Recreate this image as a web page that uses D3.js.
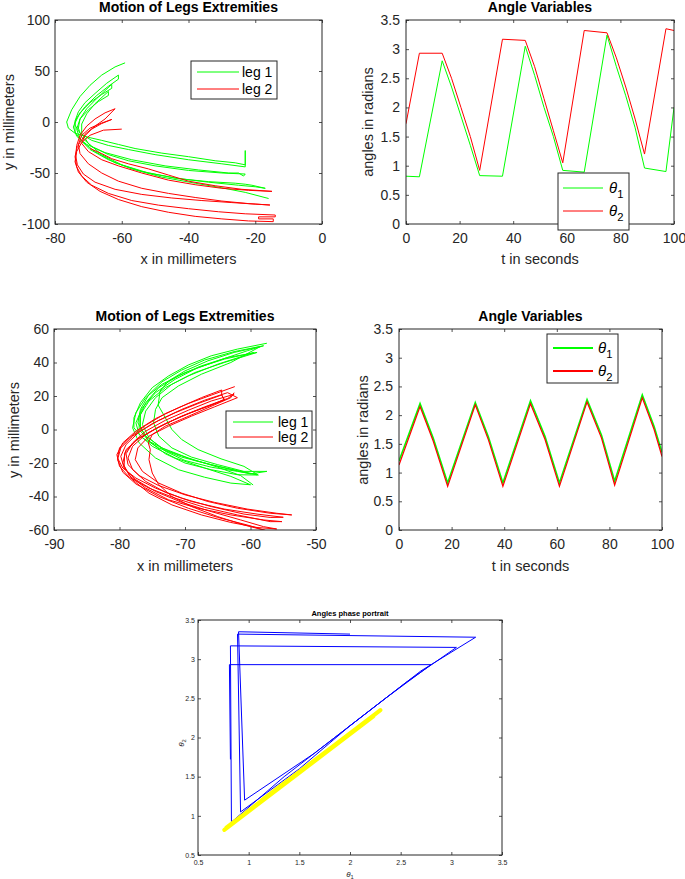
<!DOCTYPE html>
<html>
<head>
<meta charset="utf-8">
<script src="https://cdn.jsdelivr.net/npm/d3@7"></script>
<style>
  body { margin: 0; background: #fff; }
  svg { display: block; }
</style>
</head>
<body>
<svg width="685" height="879"></svg>
<script>
// ---- data: first run (top row) ----
// foot tracks, [x, y] in millimeters, one continuous trace per leg
const topLeg1 = [
  [-59,58],[-62,54],[-66,46],[-69.5,36],[-72.5,25],[-75,12],[-76.5,0],[-76,-6],[-74,-11],[-70,-15],[-66,-18],[-61,-22],[-56,-26],[-48,-30.5],[-40,-34],[-32,-38],[-26,-40],[-23,-42],[-23,-28],[-23,-44],
  [-30,-41],[-40,-37],[-50,-32],[-58,-27],[-64,-23],[-69,-18],[-72.5,-11],[-74,-3],[-74,1],[-73,10],[-71,19],[-68,28],[-64.5,38],[-61,46],[-61,42],
  [-64,35],[-67.5,26],[-71,15],[-73.5,4],[-74.5,-5],[-73.5,-14],[-70.5,-22],[-65,-30],[-57,-37],[-47,-43],[-37,-47],[-28,-50],[-25,-50],[-23.5,-53],
  [-23,-51],[-30,-50],[-40,-47.5],[-50,-43],[-58,-38],[-64,-32],[-69,-24],[-72,-15],[-73,-6],[-72.5,3],[-70.5,13],[-67.5,23],[-63,37],[-63,33],
  [-66,27],[-69.5,19],[-72.5,9],[-74,-1],[-74,-10],[-72,-19],[-68,-29],[-62,-40],[-54,-48.5],[-44,-55],[-34,-59],[-25,-62],[-20,-63.5],[-17,-65],
  [-21,-62],[-23,-61],[-26,-60],[-34,-58.5],[-43,-55.5],[-52,-50],[-60,-42],[-66,-32],[-70,-21],[-72,-11],[-72,-2],[-70.5,8],[-68,18],[-64,30],[-64,26],
  [-67,20],[-70,12],[-72.5,3],[-73.5,-7],[-72.5,-17],[-69.5,-27],[-64,-37],[-57,-46],[-48,-54],[-38,-60],[-30,-64.5],[-23,-69],[-16,-75]
];
const topLeg2 = [
  [-69.5,-26],[-66,-31],[-63,-36],[-58,-41],[-52,-46],[-46,-52],[-40,-58],[-32,-62.5],[-24,-66],[-15,-68],
  [-22,-67],[-30,-65],[-38,-61.5],[-46,-57],[-54,-50],[-61,-43],[-66,-37],[-70,-29],[-72,-21],[-71,-12],[-68,-4],[-65,3],[-62,13],
  [-65,9],[-68,3],[-70.5,-4],[-72.5,-13],[-73.5,-23],[-73.8,-33],[-73.3,-42],[-71.5,-51],[-68,-59],[-62,-66],[-54,-71],[-45,-74.5],[-36,-77],[-27,-79],[-20,-80.5],[-15.6,-81.4],
  [-22,-80],[-30,-77.5],[-38,-74],[-46,-70],[-54,-65],[-61,-58],[-66,-50],[-70,-41],[-72.5,-31],[-73,-22],[-72,-13],[-69.5,-6],[-66,-1],[-63,2.5],
  [-66,-1.5],[-69,-7],[-71.5,-15],[-73.3,-24],[-74,-34],[-73.5,-44],[-72,-53],[-69,-62],[-64,-70],[-57,-77],[-49,-81.5],[-40,-85],[-31,-88],[-23,-90],[-14,-91.2],
  [-14,-93],[-19,-93],[-19,-95],[-14.6,-95],[-14.6,-97.7],[-22,-97],[-30,-95],[-38,-92.5],[-46,-88.5],[-54,-83],[-61,-76],[-66.5,-68],[-70.5,-59],[-73,-49],[-74,-39],[-73.5,-29],[-72,-20],[-69.5,-13],[-65.5,-8],[-60,-7]
];
// angles vs time
const timeA = [0, 5, 13.5, 17, 20.5, 24, 27.5, 36, 44.5, 48, 51.5, 55, 58.5, 66.5, 75, 78.5, 82, 85.5, 89, 97, 100];
const theta1A = [0.82, 0.81, 2.8, 2.35, 1.85, 1.35, 0.83, 0.82, 3.05, 2.55, 2.0, 1.5, 0.92, 0.89, 3.24, 2.7, 2.2, 1.65, 0.96, 0.9, 2.0];
const theta2A = [1.72, 2.93, 2.93, 2.5, 2.0, 1.5, 0.92, 3.17, 3.15, 2.7, 2.15, 1.6, 1.05, 3.32, 3.28, 2.85, 2.35, 1.8, 1.2, 3.35, 3.32];

// ---- data: second run (middle row) ----
const midLeg1 = [
  [-57.5,51.5],[-62,48],[-66,44],[-69.5,38.5],[-72.5,32],[-75,25],[-76.8,16],[-77.8,7],[-77.8,1],[-76.5,-5],[-74,-11],[-70.5,-16.5],[-66,-21],[-62,-24.5],[-59,-27],
  [-62,-25],[-66,-22.5],[-70,-18.5],[-73,-13],[-75.5,-5],[-76.5,3],[-76,11],[-74.5,19],[-72,27],[-68.5,34],[-64,40],[-59,46],
  [-63.5,43],[-67.5,38],[-71,32],[-74,25],[-76,16],[-77,7],[-77,0],[-75.5,-7],[-72.5,-13],[-68.5,-18.5],[-64,-23],[-60,-26.5],[-57.5,-25],
  [-61,-25],[-65,-21],[-69,-16.5],[-72,-11],[-74,-4],[-74.8,4],[-74.5,12],[-73.5,19],[-71,26],[-67.5,33],[-63,40],[-58.5,49.5],
  [-62.5,46],[-66.5,41],[-70,35],[-72.5,29],[-73.8,23],[-74.1,14.6],[-73,7],[-72,0],[-70.5,-6],[-68,-12],[-64.5,-17.5],[-61,-22],[-58.8,-27.2],
  [-62,-27],[-66,-24],[-70,-20],[-73,-14.5],[-75.5,-7],[-76.8,1],[-76.8,9],[-75.5,17],[-73,25],[-69.5,32],[-65,39],[-59.5,45.9],
  [-64,42],[-68,37],[-71.5,30],[-74.5,22],[-76.5,13],[-77.5,4],[-77,-3],[-75,-10],[-71.5,-17],[-67,-23],[-63,-28],[-60,-33],
  [-63,-32],[-67,-28.5],[-71,-24],[-74.5,-17],[-77,-8],[-78,1],[-77.5,10],[-76,19],[-73.5,27],[-70,34],[-65,41],[-60.5,47],[-58,50],
  [-62.5,46.5],[-67,41.5],[-70.5,35.5],[-73.5,28.5],[-75.5,21],[-76.8,12],[-77.2,4],[-76,-4],[-73.5,-11],[-69.5,-17],[-65,-22.5],[-61.5,-27.5],[-59.6,-33.1]
];
const midLeg2 = [
  [-62.4,25.6],[-66,20.5],[-69.5,15.5],[-73,9.5],[-76,2.5],[-78.5,-5],[-80,-11],[-80.3,-17],[-79.5,-23],[-77.5,-29],[-74.5,-35],[-70.5,-41],[-66,-46],[-61,-50.5],[-57,-52.5],[-55,-52.4],
  [-59,-50.5],[-64,-47.5],[-69,-43],[-73,-37.5],[-76,-31],[-78,-24],[-78.7,-17],[-78,-10],[-76,-3],[-73,3.5],[-69.5,9.5],[-66,14.5],[-64,18],[-64.4,20.6],[-64.4,23.6],
  [-67.5,19],[-71,13],[-74.5,6.5],[-77.5,-1],[-79.5,-8],[-80.4,-15],[-80,-22],[-78.5,-28.5],[-75.5,-35],[-71.5,-41],[-67,-46.5],[-62,-51],[-57,-55],[-55.2,-55],
  [-58,-54],[-63,-51],[-68,-47],[-72.5,-42],[-76,-35],[-78.5,-27.5],[-79.5,-20],[-79,-12],[-77,-5],[-74,1.5],[-70.5,8],[-67,13.5],[-63.5,18.5],[-62.5,21],
  [-66,17],[-69.5,11.5],[-73,5.5],[-76,-1],[-78,-8],[-79,-14.5],[-78.7,-21],[-77,-27.5],[-74,-33.5],[-70,-39],[-65.5,-43.5],[-60.5,-47.5],[-56,-50],[-53.7,-51],
  [-57,-50],[-62,-47],[-66.5,-43],[-70.5,-38],[-74,-32],[-76.5,-25],[-77.6,-18],[-77.2,-11],[-75.5,-4],[-72.5,2],[-69,8],[-65.5,13.5],[-62,19],[-63.5,22],
  [-67,17.5],[-70.5,12],[-74,5.5],[-77,-1.5],[-79,-9],[-79.8,-16],[-79.3,-23],[-77.5,-30],[-74.5,-37],[-70.5,-43.5],[-66,-49],[-61.5,-54],[-58,-58],[-56,-59.4],
  [-59,-58.5],[-63,-55.5],[-67.5,-51],[-72,-45],[-75.5,-38],[-78,-30],[-79.3,-22],[-79.2,-14],[-77.5,-6.5],[-74.5,0.5],[-71,7],[-67.5,12.5],[-64,17.5],[-64.4,20.6],
  [-68,15.5],[-71.5,10],[-75,3.5],[-78,-4],[-79.8,-11],[-80.3,-18],[-79.5,-25.5],[-77.5,-32.5],[-74,-40],[-69.5,-47],[-65,-52.5],[-60.5,-57],[-57.5,-60.5],
  [-61,-57],[-65,-52],[-69,-46],[-72,-40],[-74,-33],[-75,-26],[-75.5,-18],[-75.3,-12],[-75.6,-8],[-75,-3],[-73,2],[-70,7],[-66.5,13],[-63,19],[-62.5,22]
];
const timeB = [0, 8, 13, 18.5, 29, 34, 39.5, 50, 55.5, 61, 71.5, 77, 82, 92.5, 97, 100];
const theta1B = [1.2, 2.2, 1.6, 0.82, 2.22, 1.62, 0.82, 2.25, 1.63, 0.82, 2.27, 1.65, 0.85, 2.35, 1.8, 1.35];
const theta2B = [1.13, 2.15, 1.55, 0.76, 2.18, 1.57, 0.76, 2.2, 1.58, 0.76, 2.23, 1.6, 0.78, 2.3, 1.75, 1.28];

const legLabels = ["leg 1", "leg 2"];

const svg = d3.select("svg");
const font = '"Liberation Sans", Arial, Helvetica, sans-serif';
const axisColor = "#262626";
const GREEN = "#00ff00", RED = "#ff0000", BLUE = "#0000ff", YELLOW = "#ffff00";

let clipCount = 0;

// one MATLAB-style axes box: ticks inside on all four sides
function makeAxes(p) {
  const x = d3.scaleLinear().domain(p.xDomain).range([p.left, p.right]);
  const y = d3.scaleLinear().domain(p.yDomain).range([p.bottom, p.top]);
  const id = "clip" + (clipCount++);
  svg.append("clipPath").attr("id", id).append("rect")
    .attr("x", p.left).attr("y", p.top)
    .attr("width", p.right - p.left).attr("height", p.bottom - p.top);

  const data = svg.append("g").attr("clip-path", `url(#${id})`);
  const g = svg.append("g");
  const tl = p.tickLen || 3;
  const fmt = d => String(d);

  g.append("g").attr("transform", `translate(0,${p.bottom})`)
    .call(d3.axisBottom(x).tickValues(p.xTicks).tickSize(-tl).tickSizeOuter(0).tickPadding(p.xPad).tickFormat(fmt));
  g.append("g").attr("transform", `translate(${p.left},0)`)
    .call(d3.axisLeft(y).tickValues(p.yTicks).tickSize(-tl).tickSizeOuter(0).tickPadding(p.yPad).tickFormat(fmt));
  g.append("g").attr("transform", `translate(0,${p.top})`)
    .call(d3.axisTop(x).tickValues(p.xTicks).tickSize(-tl).tickSizeOuter(0).tickFormat(""));
  g.append("g").attr("transform", `translate(${p.right},0)`)
    .call(d3.axisRight(y).tickValues(p.yTicks).tickSize(-tl).tickSizeOuter(0).tickFormat(""));

  g.selectAll(".domain").remove();
  g.selectAll(".tick line").attr("stroke", axisColor).attr("stroke-width", 0.8);
  g.selectAll(".tick text").attr("fill", axisColor)
    .attr("font-size", p.tickFont).attr("font-family", font);

  g.append("rect")
    .attr("x", p.left).attr("y", p.top)
    .attr("width", p.right - p.left).attr("height", p.bottom - p.top)
    .attr("fill", "none").attr("stroke", axisColor).attr("stroke-width", 1);

  g.append("text")
    .attr("x", (p.left + p.right) / 2).attr("y", p.titleY)
    .attr("text-anchor", "middle").attr("font-weight", "bold")
    .attr("font-family", font).attr("font-size", p.titleFont)
    .text(p.title);
  return { x, y, data, g };
}

function addLabel(parent, txt, xPos, yPos, size, rotate, sub) {
  const t = parent.append("text")
    .attr("text-anchor", "middle").attr("font-family", font)
    .attr("font-size", size).attr("fill", axisColor)
    .attr("transform", `translate(${xPos},${yPos})` + (rotate ? " rotate(-90)" : ""));
  if (sub) {
    t.append("tspan").attr("font-style", "italic").text(txt);
    t.append("tspan").attr("dy", size * 0.3).attr("font-size", size * 0.72).text(sub);
  } else {
    t.text(txt);
  }
  return t;
}

function drawLegend(parent, box, rows, size, lineWidth) {
  parent.append("rect")
    .attr("x", box.x).attr("y", box.y).attr("width", box.w).attr("height", box.h)
    .attr("fill", "#fff").attr("stroke", axisColor).attr("stroke-width", 1);
  rows.forEach(r => {
    parent.append("line")
      .attr("x1", box.x + box.lineX0).attr("x2", box.x + box.lineX1)
      .attr("y1", r.y).attr("y2", r.y)
      .attr("stroke", r.color).attr("stroke-width", lineWidth);
    const t = parent.append("text")
      .attr("x", box.x + box.textX).attr("y", r.y + size * 0.36)
      .attr("font-family", font).attr("font-size", size).attr("fill", "#000");
    if (r.sub) {
      t.append("tspan").attr("font-style", "italic").text(r.label);
      t.append("tspan").attr("dy", size * 0.3).attr("font-size", size * 0.75).text(r.sub);
    } else {
      t.text(r.label);
    }
  });
}

// ---------- panel 1: first run, foot tracks ----------
const p1 = makeAxes({
  left: 55, right: 322, top: 20, bottom: 224,
  xDomain: [-80, 0], yDomain: [-100, 100],
  xTicks: [-80, -60, -40, -20, 0], yTicks: [-100, -50, 0, 50, 100],
  xPad: 9, yPad: 5, tickFont: 14,
  title: "Motion of Legs Extremities", titleY: 12, titleFont: 14
});
const line1 = d3.line().x(d => p1.x(d[0])).y(d => p1.y(d[1]));
p1.data.append("path").attr("d", line1(topLeg1)).attr("fill", "none").attr("stroke", GREEN).attr("stroke-width", 1);
p1.data.append("path").attr("d", line1(topLeg2)).attr("fill", "none").attr("stroke", RED).attr("stroke-width", 1);
addLabel(p1.g, "x in millimeters", 188.5, 263.5, 14.5);
addLabel(p1.g, "y in millimeters", 14, 122, 14.5, true);
drawLegend(p1.g, { x: 191, y: 61, w: 86, h: 38, lineX0: 6, lineX1: 48, textX: 51 },
  [{ color: GREEN, label: legLabels[0], y: 72 }, { color: RED, label: legLabels[1], y: 89 }], 14, 1);

// ---------- panel 2: first run, angles vs time ----------
const p2 = makeAxes({
  left: 406, right: 674, top: 20, bottom: 224,
  xDomain: [0, 100], yDomain: [0, 3.5],
  xTicks: [0, 20, 40, 60, 80, 100], yTicks: [0, 0.5, 1, 1.5, 2, 2.5, 3, 3.5],
  xPad: 9, yPad: 6, tickFont: 14,
  title: "Angle Variables", titleY: 12, titleFont: 14
});
const line2a = d3.line().x((d, i) => p2.x(timeA[i])).y(d => p2.y(d));
p2.data.append("path").attr("d", line2a(theta1A)).attr("fill", "none").attr("stroke", GREEN).attr("stroke-width", 1);
p2.data.append("path").attr("d", line2a(theta2A)).attr("fill", "none").attr("stroke", RED).attr("stroke-width", 1);
addLabel(p2.g, "t in seconds", 540, 263.5, 14.5);
addLabel(p2.g, "angles in radians", 373, 122, 14.5, true);
drawLegend(p2.g, { x: 558, y: 173, w: 71, h: 57, lineX0: 5, lineX1: 45, textX: 51 },
  [{ color: GREEN, label: "θ", sub: "1", y: 188 }, { color: RED, label: "θ", sub: "2", y: 211 }], 15, 1);

// ---------- panel 3: second run, foot tracks ----------
const p3 = makeAxes({
  left: 54, right: 316, top: 329, bottom: 530,
  xDomain: [-90, -50], yDomain: [-60, 60],
  xTicks: [-90, -80, -70, -60, -50], yTicks: [-60, -40, -20, 0, 20, 40, 60],
  xPad: 9, yPad: 5, tickFont: 14,
  title: "Motion of Legs Extremities", titleY: 321, titleFont: 14
});
const line3 = d3.line().x(d => p3.x(d[0])).y(d => p3.y(d[1]));
p3.data.append("path").attr("d", line3(midLeg1)).attr("fill", "none").attr("stroke", GREEN).attr("stroke-width", 1);
p3.data.append("path").attr("d", line3(midLeg2)).attr("fill", "none").attr("stroke", RED).attr("stroke-width", 1);
addLabel(p3.g, "x in millimeters", 185, 571, 14.5);
addLabel(p3.g, "y in millimeters", 19, 430, 14.5, true);
drawLegend(p3.g, { x: 226, y: 411, w: 86, h: 37, lineX0: 7, lineX1: 47, textX: 52 },
  [{ color: GREEN, label: legLabels[0], y: 422 }, { color: RED, label: legLabels[1], y: 437 }], 14, 1);

// ---------- panel 4: second run, angles vs time ----------
const p4 = makeAxes({
  left: 399, right: 662, top: 329, bottom: 530,
  xDomain: [0, 100], yDomain: [0, 3.5],
  xTicks: [0, 20, 40, 60, 80, 100], yTicks: [0, 0.5, 1, 1.5, 2, 2.5, 3, 3.5],
  xPad: 9, yPad: 6, tickFont: 14,
  title: "Angle Variables", titleY: 321, titleFont: 14
});
const line4 = d3.line().x((d, i) => p4.x(timeB[i])).y(d => p4.y(d));
p4.data.append("path").attr("d", line4(theta1B)).attr("fill", "none").attr("stroke", GREEN).attr("stroke-width", 1.6);
p4.data.append("path").attr("d", line4(theta2B)).attr("fill", "none").attr("stroke", RED).attr("stroke-width", 1.2);
addLabel(p4.g, "t in seconds", 530.5, 571, 14.5);
addLabel(p4.g, "angles in radians", 367.5, 430, 14.5, true);
drawLegend(p4.g, { x: 547, y: 334, w: 71, h: 49, lineX0: 6, lineX1: 46, textX: 51 },
  [{ color: GREEN, label: "θ", sub: "1", y: 348 }, { color: RED, label: "θ", sub: "2", y: 371 }], 15, 1.8);

// ---------- panel 5: phase portrait ----------
const p5 = makeAxes({
  left: 198, right: 502, top: 620, bottom: 855,
  xDomain: [0.5, 3.5], yDomain: [0.5, 3.5],
  xTicks: [0.5, 1, 1.5, 2, 2.5, 3, 3.5], yTicks: [0.5, 1, 1.5, 2, 2.5, 3, 3.5],
  xPad: 5, yPad: 3, tickFont: 7, tickLen: 3,
  title: "Angles phase portrait", titleY: 615.5, titleFont: 7.5
});
// theta1 on x, theta2 on y (second run drawn in yellow)
const line5a = d3.line().x(d => p5.x(d)).y((d, i) => p5.y(theta2A[i]));
const line5b = d3.line().x(d => p5.x(d)).y((d, i) => p5.y(theta1B[i]));
p5.data.append("path").attr("d", line5a(theta1A)).attr("fill", "none").attr("stroke", BLUE).attr("stroke-width", 1);
p5.data.append("path").attr("d", line5b(theta2B)).attr("fill", "none").attr("stroke", YELLOW)
  .attr("stroke-width", 4).attr("stroke-linecap", "round").attr("stroke-linejoin", "round");
addLabel(p5.g, "θ", 350, 877, 8, false, "1");
addLabel(p5.g, "θ", 184, 743, 8, true, "2");
</script>
</body>
</html>
